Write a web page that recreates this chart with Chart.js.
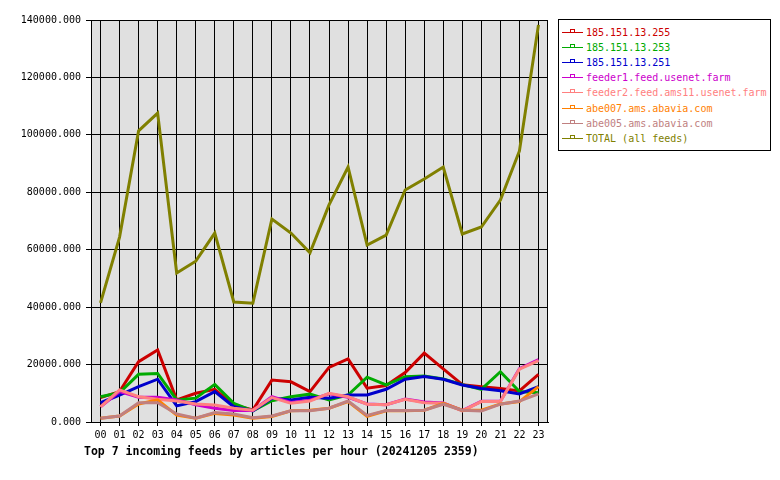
<!DOCTYPE html>
<html>
<head>
<meta charset="utf-8">
<script src="https://cdn.jsdelivr.net/npm/chart.js@4.4.1/dist/chart.umd.min.js"></script>
<style>
  body { margin: 0; background: #fff; }
  #wrap { position: relative; width: 780px; height: 480px; }
  #legend {
    position: absolute; left: 558px; top: 19px; width: 211px; height: 130px;
    border: 1px solid #000; background: #fff;
    font: 10px "DejaVu Sans Mono", monospace;
  }
  .item { position: absolute; left: 3px; height: 12px; line-height: 12px; white-space: nowrap; }
  .sample { position: absolute; left: 0; top: 5px; width: 21px; height: 1px; }
  .mark { position: absolute; left: 8px; top: -3px; width: 3px; height: 2px; border: 1px solid; border-bottom: none; background: #fff; }
  .txt { position: absolute; left: 24px; top: 0; }
  #title {
    position: absolute; left: 84px; top: 444px;
    font: bold 11.5px "DejaVu Sans Mono", monospace; color: #000; white-space: nowrap;
  }
</style>
</head>
<body>
<div id="wrap">
  <canvas id="chart" width="780" height="480"></canvas>
  <div id="legend"></div>
  <div id="title">Top 7 incoming feeds by articles per hour (20241205 2359)</div>
</div>
<script>
const hours = ["00","01","02","03","04","05","06","07","08","09","10","11",
               "12","13","14","15","16","17","18","19","20","21","22","23"];

const feedNames = ["185.151.13.255", "185.151.13.253", "185.151.13.251",
  "feeder1.feed.usenet.farm", "feeder2.feed.ams11.usenet.farm",
  "abe007.ams.abavia.com", "abe005.ams.abavia.com", "TOTAL (all feeds)"];

const feedColors = ["#cc0000", "#00aa00", "#0000cc", "#cc00cc", "#ff8080", "#ff8000", "#c08080", "#808000"];

const feed255 = [8500, 10600, 21000, 25100, 7700, 10000, 11400, 5900, 4200, 14600, 14000, 10600,
                 19000, 22000, 11800, 12700, 17200, 24000, 18500, 13000, 12300, 11700, 10800, 16600];
const feed253 = [8800, 10200, 16600, 16900, 7700, 8300, 13100, 6500, 3900, 7400, 8800, 9700,
                 7700, 9400, 15600, 12900, 15800, 16000, 15000, 13000, 11400, 17500, 10600, 10200];
const feed251 = [6700, 9400, 12300, 14900, 5600, 7100, 10600, 5300, 3900, 8300, 7700, 8600,
                 8300, 9400, 9400, 11400, 14900, 15800, 14900, 12900, 11700, 10900, 9800, 12300];
const feeder1 = [5300, 10600, 8600, 8600, 7700, 6000, 4800, 4000, 4000, 8800, 6800, 7600,
                 9800, 8600, 6300, 6000, 8000, 7000, 6600, 4000, 7200, 7200, 18600, 21700];
const feeder2 = [5300, 11200, 8800, 7900, 7300, 6300, 5900, 4800, 4100, 8500, 6500, 7300,
                 10000, 8800, 6200, 6000, 7900, 6700, 6500, 3900, 7100, 7100, 18400, 21400];
const abe007 = [1300, 2100, 6300, 7700, 2400, 1300, 3000, 2400, 1300, 1900, 3900, 4100,
                4800, 7100, 2000, 3900, 3900, 4100, 6500, 4100, 4100, 6300, 7100, 12300];
const abe005 = [1300, 2100, 6700, 6700, 2800, 1300, 3300, 2800, 1500, 2100, 3900, 3900,
                4800, 7300, 2300, 4000, 4000, 4100, 6200, 4100, 3800, 6200, 7300, 9800];
const total = [41500, 64400, 101400, 107600, 51900, 56000, 65800, 41800, 41400, 70700, 65800, 58900,
               75600, 88800, 61600, 65100, 80800, 84600, 88800, 65500, 67900, 77300, 94400, 138300];

const yTicks = [0, 20000, 40000, 60000, 80000, 100000, 120000, 140000];

const series = [feed255, feed253, feed251, feeder1, feeder2, abe007, abe005, total];

// later feeds are painted over earlier ones, like the original
const datasets = series.map((d, i) => ({
  label: feedNames[i],
  data: d,
  borderColor: feedColors[i],
  backgroundColor: feedColors[i],
  order: series.length - i
}));

const font = { family: "DejaVu Sans Mono", size: 10 };

const plotBg = {
  id: "plotBg",
  beforeDraw(chart) {
    const a = chart.chartArea, ctx = chart.ctx;
    ctx.save();
    ctx.fillStyle = "#e0e0e0";
    ctx.fillRect(a.left, a.top, a.right - a.left, a.bottom - a.top);
    ctx.restore();
  },
  beforeDatasetsDraw(chart) {
    const a = chart.chartArea, ctx = chart.ctx;
    ctx.save();
    ctx.strokeStyle = "#000";
    ctx.lineWidth = 1;
    ctx.strokeRect(Math.round(a.left) + 0.5, Math.round(a.top) + 0.5,
                   Math.round(a.right - a.left) - 1, Math.round(a.bottom - a.top));
    ctx.restore();
  }
};

new Chart(document.getElementById("chart").getContext("2d"), {
  type: "line",
  data: { labels: hours, datasets: datasets },
  plugins: [plotBg],
  options: {
    responsive: false,
    animation: false,
    layout: { padding: { top: 20, right: 232, left: 0, bottom: 0 } },
    plugins: { legend: { display: false }, tooltip: { enabled: false } },
    elements: {
      point: { radius: 0 },
      line: { borderWidth: 3, tension: 0, borderJoinStyle: "miter" }
    },
    scales: {
      x: {
        offset: true,
        grid: { color: "#000", lineWidth: 1, tickLength: 4, offset: false },
        border: { color: "#000" },
        ticks: { font: font, color: "#000", padding: 3, maxRotation: 0, autoSkip: false },
        afterFit(s) { s.height = 58; }
      },
      y: {
        min: 0,
        max: 140000,
        afterBuildTicks(s) { s.ticks = yTicks.map(v => ({ value: v })); },
        grid: { color: "#000", lineWidth: 1, tickLength: 5 },
        border: { color: "#000" },
        ticks: { font: font, color: "#000", padding: 5, callback: v => v.toFixed(3) },
        afterFit(s) { s.width = 91; }
      }
    }
  }
});

// legend box
const legend = document.getElementById("legend");
feedNames.forEach((name, i) => {
  const row = document.createElement("div");
  row.className = "item";
  row.style.top = (7 + i * 15.1) + "px";
  row.innerHTML = '<div class="sample" style="background:' + feedColors[i] + '">' +
    '<div class="mark" style="border-color:' + feedColors[i] + '"></div></div>' +
    '<span class="txt" style="color:' + feedColors[i] + '">' + name + '</span>';
  legend.appendChild(row);
});
</script>
</body>
</html>
